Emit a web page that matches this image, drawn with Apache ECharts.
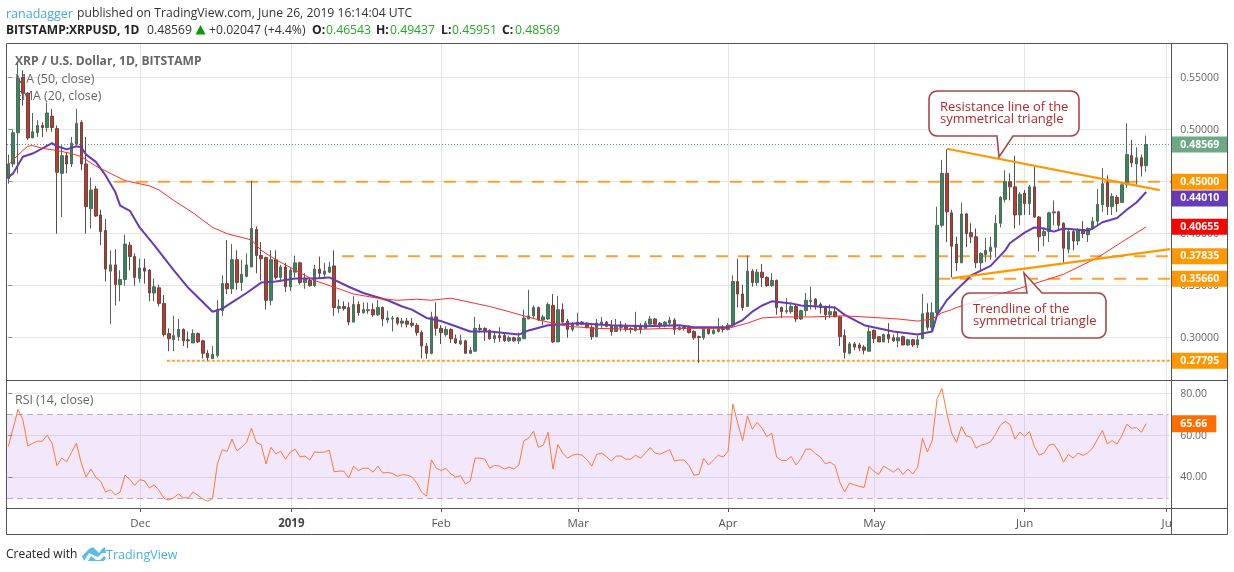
<!DOCTYPE html>
<html><head><meta charset="utf-8">
<style>html,body{margin:0;padding:0;background:#fff}#c{width:1234px;height:572px}</style>
<script src="https://cdn.jsdelivr.net/npm/echarts@6/dist/echarts.min.js"></script>
</head><body><div id="c"></div>
<script>
const opens=[.453,.467,.497,.550,.535,.492,.497,.504,.502,.513,
.501,.458,.475,.467,.486,.507,.467,.424,.443,.418,
.403,.364,.370,.351,.356,.389,.378,.357,.367,.365,
.343,.348,.333,.304,.298,.301,.308,.298,.295,.304,
.297,.285,.280,.283,.326,.352,.347,.375,.353,.359,
.368,.404,.379,.377,.336,.375,.358,.368,.349,.363,
.372,.353,.355,.350,.366,.361,.363,.369,.328,.330,
.329,.315,.332,.324,.326,.327,.322,.329,.317,.318,
.319,.314,.316,.314,.312,.305,.292,.285,.320,.309,
.303,.308,.299,.294,.297,.285,.287,.309,.309,.307,
.299,.302,.302,.297,.300,.297,.299,.318,.321,.329,
.317,.318,.331,.296,.327,.316,.308,.312,.315,.314,
.310,.301,.313,.315,.311,.306,.312,.311,.309,.307,
.312,.309,.313,.318,.314,.312,.314,.317,.308,.310,
.310,.306,.301,.300,.309,.304,.306,.310,.308,.312,
.354,.342,.330,.364,.353,.363,.358,.350,.355,.329,
.325,.325,.330,.318,.326,.335,.337,.332,.329,.322,
.325,.320,.302,.285,.294,.293,.291,.287,.307,.301,
.296,.303,.300,.297,.301,.293,.298,.293,.299,.324,
.310,.324,.408,.458,.420,.390,.372,.419,.401,.397,
.372,.380,.383,.387,.410,.433,.450,.445,.418,.439,
.429,.445,.416,.398,.402,.420,.421,.410,.385,.402,
.393,.404,.399,.405,.412,.428,.449,.426,.435,.430,
.447,.475,.467,.473,.46543];
const closes=[.467,.497,.549,.535,.492,.498,.504,.502,.516,.502,
.459,.475,.467,.487,.506,.467,.426,.442,.417,.402,
.366,.370,.351,.356,.390,.378,.358,.367,.364,.343,
.349,.333,.303,.299,.302,.308,.297,.297,.304,.296,
.285,.281,.284,.327,.352,.347,.375,.353,.361,.370,
.405,.379,.376,.336,.375,.358,.368,.349,.365,.372,
.353,.357,.350,.366,.362,.364,.368,.329,.330,.328,
.315,.332,.324,.327,.327,.322,.329,.318,.319,.319,
.314,.316,.313,.312,.305,.292,.285,.320,.309,.305,
.308,.299,.295,.297,.285,.288,.309,.308,.307,.299,
.302,.300,.297,.300,.297,.300,.319,.321,.329,.317,
.320,.332,.296,.327,.315,.308,.313,.315,.313,.310,
.301,.314,.315,.311,.306,.311,.310,.308,.308,.312,
.308,.314,.318,.313,.312,.315,.317,.308,.310,.309,
.305,.300,.300,.309,.304,.307,.310,.308,.312,.354,
.342,.329,.364,.353,.363,.358,.350,.355,.329,.325,
.326,.330,.318,.326,.336,.336,.331,.329,.322,.325,
.320,.301,.286,.294,.291,.290,.288,.306,.299,.296,
.303,.299,.297,.300,.293,.298,.293,.298,.323,.310,
.324,.408,.458,.421,.388,.372,.419,.400,.397,.372,
.381,.384,.387,.410,.435,.450,.445,.418,.438,.429,
.445,.416,.397,.402,.420,.421,.408,.386,.402,.393,
.404,.400,.405,.412,.428,.448,.426,.436,.429,.447,
.476,.468,.473,.465,.48569];
const lows=[.448,.464,.458,.523,.490,.492,.493,.493,.498,.498,
.400,.416,.458,.464,.485,.461,.400,.405,.416,.389,
.354,.313,.331,.335,.350,.365,.350,.353,.352,.335,
.335,.330,.301,.287,.287,.297,.292,.290,.295,.295,
.280,.278,.280,.281,.321,.342,.342,.346,.345,.358,
.368,.362,.355,.327,.331,.356,.355,.344,.345,.358,
.351,.347,.349,.349,.357,.357,.362,.321,.324,.326,
.312,.315,.321,.323,.323,.320,.321,.311,.314,.306,
.312,.310,.310,.310,.302,.280,.280,.284,.302,.294,
.301,.295,.294,.293,.285,.285,.287,.305,.297,.298,
.295,.296,.296,.296,.296,.294,.299,.318,.319,.316,
.312,.317,.295,.296,.314,.300,.306,.312,.312,.309,
.298,.301,.309,.310,.302,.306,.306,.306,.304,.306,
.304,.309,.312,.312,.309,.310,.311,.303,.307,.307,
.304,.298,.276,.298,.303,.303,.305,.305,.307,.310,
.329,.326,.330,.349,.350,.349,.349,.349,.322,.319,
.323,.323,.315,.317,.321,.327,.327,.323,.317,.319,
.320,.292,.280,.284,.288,.287,.284,.287,.295,.296,
.296,.295,.296,.291,.293,.292,.291,.290,.299,.307,
.307,.322,.406,.392,.358,.364,.372,.387,.391,.367,
.364,.373,.375,.377,.406,.430,.432,.405,.408,.418,
.418,.415,.383,.388,.392,.408,.404,.372,.381,.384,
.389,.396,.392,.404,.408,.421,.418,.418,.421,.430,
.444,.464,.447,.455,.45951];
const highs=[.476,.500,.565,.557,.536,.516,.509,.507,.526,.520,
.504,.485,.478,.493,.520,.509,.493,.454,.446,.423,
.414,.384,.385,.365,.399,.392,.381,.376,.376,.366,
.357,.351,.341,.309,.321,.318,.309,.306,.308,.305,
.298,.288,.292,.336,.360,.394,.390,.384,.375,.381,
.451,.407,.392,.378,.384,.384,.370,.372,.367,.379,
.373,.362,.357,.370,.378,.372,.373,.384,.337,.335,
.334,.340,.335,.334,.334,.333,.336,.330,.326,.321,
.320,.319,.319,.319,.314,.307,.295,.325,.334,.312,
.311,.309,.303,.303,.298,.291,.320,.313,.310,.308,
.305,.310,.304,.302,.301,.305,.327,.346,.331,.330,
.322,.334,.342,.340,.333,.318,.315,.324,.316,.315,
.312,.318,.320,.316,.317,.318,.316,.314,.310,.325,
.314,.316,.321,.319,.315,.316,.320,.319,.312,.312,
.312,.307,.302,.310,.310,.309,.319,.312,.314,.360,
.376,.351,.379,.366,.366,.371,.359,.362,.356,.330,
.338,.333,.332,.327,.343,.349,.338,.334,.331,.332,
.330,.321,.308,.296,.296,.295,.293,.310,.308,.301,
.304,.314,.303,.306,.302,.299,.299,.302,.342,.333,
.334,.426,.471,.481,.423,.397,.430,.420,.410,.405,
.382,.396,.397,.418,.436,.461,.458,.475,.440,.442,
.447,.464,.417,.406,.421,.432,.422,.411,.405,.404,
.405,.412,.406,.416,.443,.463,.456,.439,.437,.450,
.506,.490,.483,.476,.49437];
const rsi=[54.8,63.5,72.5,67.5,55,56.3,57.3,57.3,60.2,56.3,
45.6,49.2,47.5,51.9,56.3,46.8,40.2,44,40,38.1,
33,34.1,31.6,33,41.1,38.9,36.2,38.9,38.4,34.9,
36.4,33.8,30,29.2,30.2,32.1,30.2,30.2,33,31.4,
29.7,28.6,29.8,46.5,53.2,52.4,58.3,52.7,54.4,56.7,
63.5,56.7,55.6,46.4,54.4,51.3,52.5,48.7,52.1,53.5,
49.7,50.2,48.3,52.2,51.9,52.1,53,42.7,43,43,
39.7,45.4,43.2,44.4,44.4,42.5,45.4,42.1,42.4,41.9,
40.5,41.3,41.1,40.2,37.3,32.9,31,48.4,44.4,43.3,
44.3,41.7,40.2,40.8,36.8,38.3,49.2,49.2,48.7,44.4,
45.7,45.4,44,44.9,44,45.9,57.5,58.7,62.1,54.4,
55.4,61.6,44,55.7,51.6,49.2,50.6,51.1,50.6,48.4,
45.4,51,51.6,50,47.8,50.2,50.2,48.7,48.7,50.6,
49.2,51.6,54.3,51.6,51.1,52.1,53.3,47.8,48.3,48.3,
45.6,41.1,41.4,49,45.9,48.3,50.6,49.7,52.4,75.1,
65.9,57.6,69.4,63,66.3,63.5,59.5,61.1,49.7,48.1,
48.1,50,45.9,49,53.5,53.5,51.3,49.7,46.5,47.3,
45.7,37.6,33,37.3,36.4,35.7,35.2,45.2,42.9,41.4,
45.4,44,42.5,44.3,41.4,44,41.6,44.9,58.7,52.1,
57.6,77.6,82.5,70.6,61.1,56.8,64.3,59.8,59.2,54,
55.4,55.9,57,60.6,64.9,66.8,65.2,58.3,61.6,59.7,
61.9,54.8,50.6,51.7,55.4,55.9,52.5,47.3,51,49.2,
51.6,50.5,51.7,54.1,58.3,62.5,56,57.6,55.9,60,
65.4,63.5,63.8,61.6,65.66];
const ma50Days=[0,1,3,4,5,7,10,13,15,18,21,24,27,29,31,34,38,42,45,50,52,55,59,63,68,71,76,80,84,87,91,96,99,103,106,110,115,121,129,136,142,148,152,155,159,165,172,176,183,187,190,192,194,195,201,207,211,217,224,229,234];
const ma50=[.466,.471,.480,.484,.4847,.482,.480,.477,.474,.465,.458,.451,.448,.446,.442,.432,.420,.406,.400,.394,.384,.375,.365,.355,.347,.342,.338,.336,.337,.336,.338,.333,.330,.325,.321,.316,.311,.309,.308,.309,.309,.309,.314,.319,.320,.320,.321,.320,.318,.316,.318,.324,.327,.329,.338,.346,.352,.361,.377,.392,.40655];
const ema20Days=[0,1,2,3,5,7,9,10,12,14,15,16,18,20,22,23,25,27,30,34,37,42,44,46,49,52,55,59,63,66,70,73,78,81,83,86,89,92,95,99,103,105,107,111,117,124,131,138,141,148,151,153,155,157,161,163,170,172,176,182,187,190,191,193,195,197,198,202,205,206,209,211,213,215,217,222,223,225,228,230,232,234];
const ema20=[.4544,.458,.466,.474,.477,.482,.487,.484,.481,.484,.483,.476,.469,.456,.440,.427,.422,.406,.389,.365,.348,.325,.328,.334,.343,.353,.354,.357,.357,.358,.349,.343,.336,.330,.327,.319,.316,.311,.306,.306,.304,.303,.307,.312,.314,.312,.311,.312,.310,.310,.317,.325,.331,.335,.333,.331,.329,.322,.312,.306,.303,.306,.322,.336,.346,.355,.360,.369,.384,.391,.401,.406,.405,.402,.405,.403,.405,.411,.415,.423,.430,.4401];

const monthDays=[27.15,58.2,89,117.2,148,178.1,209,238.2];
const monthLabels=['Dec','2019','Feb','Mar','Apr','May','Jun','Ju'];
const xMin=-0.27, xMax=239.16;
const priceTicks=[.55,.50,.45,.40,.35,.30];
const plainPriceLabels=[.55,.50,.40,.35,.30];
const tagValues=[.48569,.45,.4401,.40655,.37835,.3566,.27795];
// where each tag sits on the scale: the 0.44010 tag is pushed below the 0.45000 tag, as in the picture
const tagPlaces=[.48569,.45,.4339,.40655,.37835,.3566,.27795];
const tagColors=['#6fa886','#ff9800','#673ab7','#ff0000','#ff9800','#ff9800','#ff9800'];
const levels=[.45,.37835,.3566];
const levelStarts=[21.7,68.6,191.2];
const supportLevel=.27795, supportStart=32.6;
const lastPrice=.48569;
const resistanceDays=[193,236.8], resistanceVals=[.4816,.4419];
const trendDays=[194,238.9], trendVals=[.3570,.3852];
const rsiTicks=[80,60,40];
const rsiBand=[70,30];
const rsiLast=65.66;

const FONT='"Open Sans"';
const LABEL=10.5;
const tagRich={p:{color:'#666',fontSize:LABEL,fontFamily:FONT,padding:[0,0,0,9]}};
tagColors.forEach((c,i)=>{tagRich['t'+i]={backgroundColor:c,color:'#fff',fontWeight:'bold',fontSize:LABEL,fontFamily:FONT,width:47,height:16,lineHeight:16,padding:[0,0,0,9]};});
const lineS=(name,x,y,color,width,type,extra)=>Object.assign({name,type:'line',xAxisIndex:0,yAxisIndex:0,
  data:x.map((d,i)=>[d,y[i]]),symbol:'none',showSymbol:false,silent:true,animation:false,
  lineStyle:{color,width,type:type||'solid'},emphasis:{disabled:true},z:3},extra||{});
const series=[];
levels.forEach((v,i)=>series.push(lineS('level'+i,[levelStarts[i],xMax],[v,v],'#ff9f2e',2,[12,10])));
series.push(lineS('support',[supportStart,xMax],[supportLevel,supportLevel],'#ff9f2e',2,[3,2]));
series.push(lineS('last',[xMin,xMax],[lastPrice,lastPrice],'#4f9e78',1,[1,2]));
series.push({name:'XRPUSD',type:'candlestick',xAxisIndex:0,yAxisIndex:0,animation:false,silent:true,z:4,barWidth:3,
  encode:{x:0,y:[1,2,3,4]},
  data:opens.map((o,i)=>[i,o,closes[i],lows[i],highs[i]]),
  itemStyle:{color:'#2f8a5f',color0:'#c8362a',borderColor:'#56665c',borderColor0:'#5e4a46',borderColorDoji:'#555',borderWidth:1}});
series.push(lineS('EMA20',ema20Days,ema20,'#673ab7',2,null,{z:5}));
series.push(lineS('MA50',ma50Days,ma50,'#ff2a2a',1,null,{z:5}));
series.push(lineS('Resistance',resistanceDays,resistanceVals,'#ff9800',2.2,null,{z:6}));
series.push(lineS('Trendline',trendDays,trendVals,'#ff9800',2.2,null,{z:6}));
series.push({name:'RSI',type:'line',xAxisIndex:1,yAxisIndex:1,animation:false,silent:true,symbol:'none',z:5,
  data:rsi.map((v,i)=>[i,v]),lineStyle:{color:'#ff7a33',width:1},
  markArea:{silent:true,itemStyle:{color:'rgba(155,60,230,0.12)'},data:[[{xAxis:xMin,yAxis:rsiBand[0]},{xAxis:238.6,yAxis:rsiBand[1]}]]},
  markLine:{silent:true,symbol:'none',animation:false,label:{show:false},lineStyle:{color:'#b9a9c2',type:[6,4],width:1},
    data:rsiBand.map(v=>[{xAxis:xMin,yAxis:v},{xAxis:238.6,yAxis:v}])}});

const splitStyle={show:true,lineStyle:{color:'#e6e6e6',width:1}};
const xAx=(gi,showLabel)=>({type:'value',gridIndex:gi,min:xMin,max:xMax,position:'bottom',
  axisLine:{show:false,onZero:false},
  axisTick:{show:showLabel,length:4,lineStyle:{color:'#555'},customValues:monthDays},
  splitLine:splitStyle,
  axisLabel:{show:showLabel,customValues:monthDays,margin:10,color:'#555',fontSize:11.5,fontFamily:FONT,
    showMinLabel:true,showMaxLabel:true,
    formatter:(v)=>{const s=monthLabels[monthDays.indexOf(v)]||'';return s==='2019'?'{b|2019}':s;},
    rich:{b:{fontWeight:'bold',color:'#444',fontSize:11.5,fontFamily:FONT}}}});

// rounded callout outline with a pointer on one long edge
function callout(x0,y0,x1,y1,r,ptr,onTop){
  const pts=[];const arc=(cx,cy,a0)=>{for(let k=0;k<=4;k++){const a=a0+k*Math.PI/8;pts.push([cx+r*Math.cos(a),cy+r*Math.sin(a)]);}};
  arc(x0+r,y0+r,Math.PI);
  if(onTop)ptr.forEach(p=>pts.push(p));
  arc(x1-r,y0+r,-Math.PI/2);
  arc(x1-r,y1-r,0);
  if(!onTop)ptr.forEach(p=>pts.push(p));
  arc(x0+r,y1-r,Math.PI/2);
  return pts;
}
const calloutFill='rgba(255,255,255,0.78)', calloutStroke='#a8474a';
const txt=(x,y,text,o)=>({type:'text',x,y,z:o.z||1,silent:true,style:Object.assign({text,fontFamily:FONT,fontSize:12,fill:'#333',verticalAlign:'middle'},o)});

const graphic=[
 txt(6,14,'ranadagger',{fill:'#45a9dd',fontSize:12.5}),
 txt(77,14,'published on TradingView.com, June 26, 2019 16:14:04 UTC',{fill:'#333',fontSize:12.2}),
 txt(6,31,'BITSTAMP:XRPUSD, 1D',{fontWeight:'bold',fill:'#222',fontSize:12}),
 txt(147,31,'0.48569',{fill:'#333',fontSize:12.2}),
 {type:'polygon',silent:true,shape:{points:[[200.5,25],[195.5,34.5],[205.5,34.5]]},style:{fill:'#0a9a0a'},z:1},
 txt(209,31,'+0.02047 (+4.4%)',{fill:'#333',fontSize:12.2}),
 txt(312,31,'O:',{fontWeight:'bold',fill:'#222',fontSize:12.2}),
 txt(326,31,'0.46543',{fill:'#22aa22',fontSize:12.2}),
 txt(376,31,'H:',{fontWeight:'bold',fill:'#222',fontSize:12.2}),
 txt(390,31,'0.49437',{fill:'#22aa22',fontSize:12.2}),
 txt(441,31,'L:',{fontWeight:'bold',fill:'#222',fontSize:12.2}),
 txt(452,31,'0.45951',{fill:'#22aa22',fontSize:12.2}),
 txt(502,31,'C:',{fontWeight:'bold',fill:'#222',fontSize:12.2}),
 txt(515,31,'0.48569',{fill:'#22aa22',fontSize:12.2}),
 txt(15,62,'XRP / U.S. Dollar, 1D, BITSTAMP',{fontWeight:'bold',fill:'#666',fontSize:12.1}),
 txt(15,79,'MA (50, close)',{fill:'#666',fontSize:12.4}),
 txt(15,96.5,'EMA (20, close)',{fill:'#666',fontSize:12.4}),
 txt(15,400,'RSI (14, close)',{fill:'#666',fontSize:12.4}),
 {type:'rect',silent:true,z:20,shape:{x:6.5,y:43.5,width:1221,height:491},style:{fill:'none',stroke:'#555',lineWidth:1}},
 {type:'line',silent:true,z:20,shape:{x1:6.5,y1:380.5,x2:1227.5,y2:380.5},style:{stroke:'#555',lineWidth:1}},
 {type:'line',silent:true,z:20,shape:{x1:6.5,y1:508.5,x2:1227.5,y2:508.5},style:{stroke:'#555',lineWidth:1}},
 {type:'line',silent:true,z:20,shape:{x1:1171.5,y1:43.5,x2:1171.5,y2:534.5},style:{stroke:'#555',lineWidth:1}},
 {type:'polygon',silent:true,z:30,shape:{points:callout(929,91,1079,136,8,[[1013,136],[999,157],[997,136]],false)},style:{fill:calloutFill,stroke:calloutStroke,lineWidth:1.6}},
 txt(940,107.5,'Resistance line of the',{fill:'#b02a2a',fontSize:13,z:31}),
 txt(940,119.5,'symmetrical triangle',{fill:'#b02a2a',fontSize:13,z:31}),
 {type:'polygon',silent:true,z:30,shape:{points:callout(962,293,1106,338,8,[[1027,293],[1024,273],[1042,293]],true)},style:{fill:calloutFill,stroke:calloutStroke,lineWidth:1.6}},
 txt(973,309.5,'Trendline of the',{fill:'#b02a2a',fontSize:13,z:31}),
 txt(973,321.5,'symmetrical triangle',{fill:'#b02a2a',fontSize:13,z:31}),
 txt(6,555,'Created with',{fill:'#222',fontSize:12}),
 {type:'polygon',silent:true,z:2,shape:{points:[[82,556],[89,549],[93,547],[96,550],[99,553],[102,549],[105,547],[106,553],[102,553],[98,557],[93,555],[89,553],[84,561]]},style:{fill:'#5bbce8'}},
 {type:'polygon',silent:true,z:2,shape:{points:[[88,561],[91,556],[96,560],[100,560],[104,556],[106,558],[104,561]]},style:{fill:'#5bbce8'}},
 txt(106,555,'TradingView',{fill:'#45b3e6',fontSize:12.5})
];

const chart=echarts.init(document.getElementById('c'),null,{renderer:'canvas'});
chart.setOption({
 animation:false,backgroundColor:'#fff',
 grid:[{left:7,top:43.5,width:1164.3,height:337.5,containLabel:false},{left:7,top:381,width:1164.3,height:127,containLabel:false}],
 xAxis:[xAx(0,false),xAx(1,true)],
 yAxis:[
  {type:'value',gridIndex:0,position:'right',min:.2584,max:.5828,
   axisLine:{show:false},axisTick:{show:true,length:4,lineStyle:{color:'#888'},customValues:priceTicks},
   splitLine:splitStyle,
   axisLabel:{customValues:plainPriceLabels.concat(tagPlaces),margin:0,align:'left',showMinLabel:true,showMaxLabel:true,rich:tagRich,
     formatter:(v)=>{const k=tagPlaces.indexOf(v);return k<0?'{p|'+v.toFixed(5)+'}':'{t'+k+'|'+tagValues[k].toFixed(5)+'}';}}},
  {type:'value',gridIndex:1,position:'right',min:25.36,max:86.08,
   axisLine:{show:false},axisTick:{show:true,length:4,lineStyle:{color:'#888'},customValues:rsiTicks},
   splitLine:splitStyle,
   axisLabel:{customValues:rsiTicks.concat([rsiLast]),margin:0,align:'left',showMinLabel:true,showMaxLabel:true,
     rich:{p:tagRich.p,r:{backgroundColor:'#ff6d00',color:'#fff',fontWeight:'bold',fontSize:LABEL,fontFamily:FONT,width:36,height:17,lineHeight:17,padding:[0,0,0,9]}},
     formatter:(v)=>'{'+(v===rsiLast?'r':'p')+'|'+v.toFixed(2)+'}'}}
 ],
 series,graphic
});
</script></body></html>
